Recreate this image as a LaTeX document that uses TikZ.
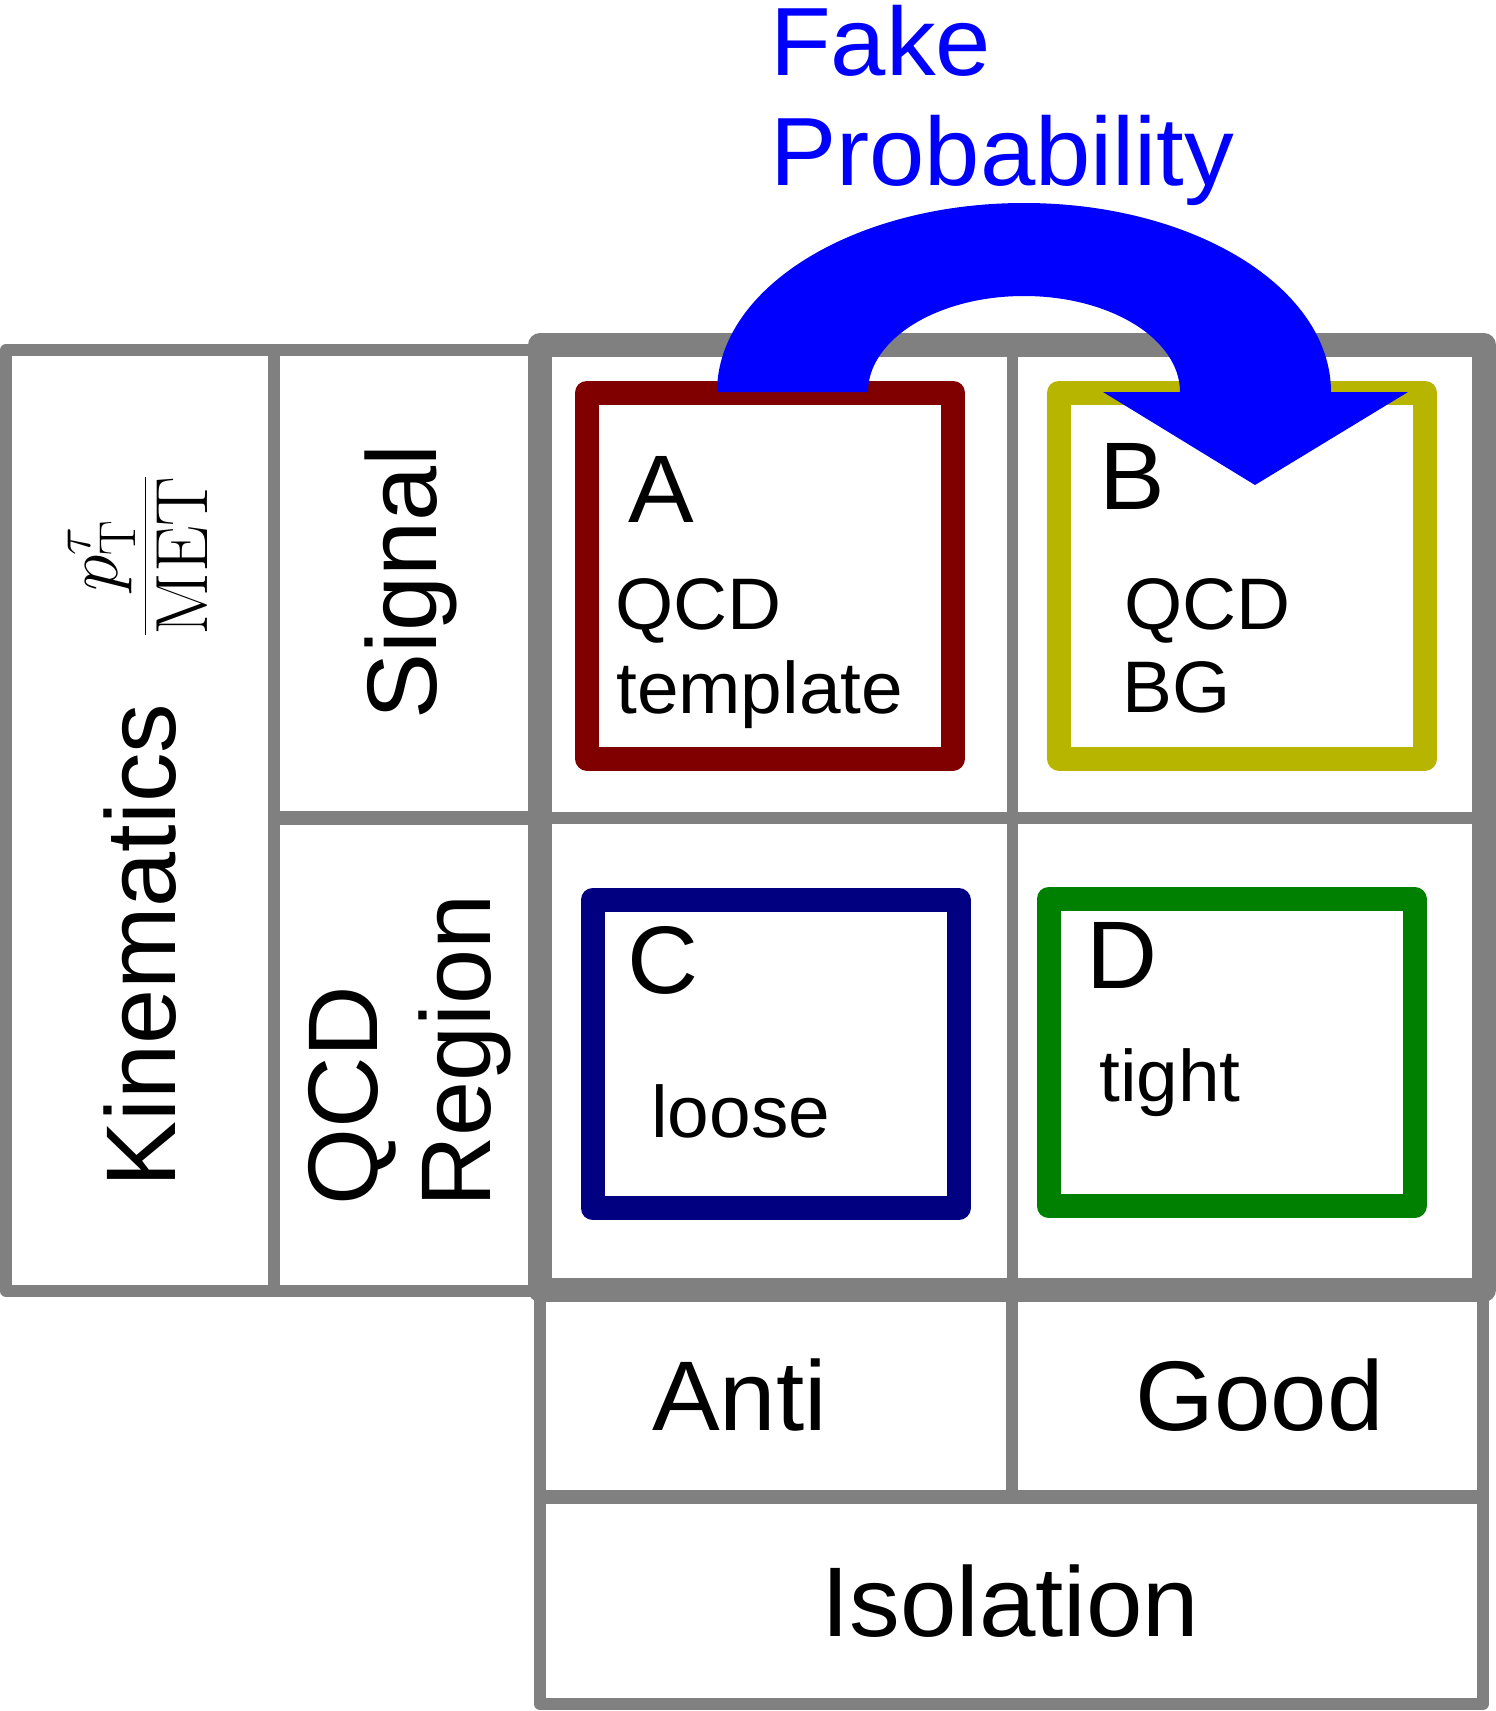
\RequirePackage{fix-cm}
\documentclass[tikz,border=0pt]{standalone}
\usepackage[no-math]{fontspec}
\setmainfont{Liberation Sans}

\definecolor{gridgray}{RGB}{128,128,128}
\definecolor{regA}{RGB}{128,0,0}
\definecolor{regB}{RGB}{184,181,0}
\definecolor{regC}{RGB}{0,0,128}
\definecolor{regD}{RGB}{0,128,0}
\definecolor{fakeblue}{RGB}{0,0,255}

\begin{document}
\begin{tikzpicture}
    [
        x=1pt, y=-1pt,
        gridline/.style={gridgray, line width=12pt, line join=round},
        frame/.style={gridgray, line width=24pt, line join=round},
        region/.style={rectangle, line width=24pt, line join=round, inner sep=0pt, outer sep=0pt, minimum width=366pt},
        letter/.style={anchor=base west, inner sep=0pt, xscale=1.025, font=\fontsize{96}{110}\selectfont},
        note/.style={anchor=base west, inner sep=0pt, xscale=1.025, font=\fontsize{73}{84}\selectfont},
        side/.style={anchor=base west, inner sep=0pt, rotate=90, font=\fontsize{99}{114}\selectfont},
        title/.style={anchor=base west, inner sep=0pt, xscale=1.025, font=\fontsize{99}{114}\selectfont},
    ]

    \useasboundingbox (0,0) rectangle (1496,1711);

    % kinematics table
    \draw [gridline] (540,350) -- (6,350) -- (6,1291) -- (540,1291);
    \draw [gridline] (274,350) -- (274,1291);
    \draw [gridline, line width=14pt] (274,818) -- (540,818);

    % isolation table
    \draw [gridline] (540,1290) -- (540,1704) -- (1483,1704) -- (1483,1290);
    \draw [gridline, line width=14pt] (540,1497) -- (1483,1497);
    \draw [gridline] (1012,1290) -- (1012,1497);

    % abcd grid
    \draw [gridline, line width=11pt] (1012,345) -- (1012,1290);
    \draw [gridline] (540,818) -- (1484,818);
    \draw [frame] (540,345) rectangle (1484,1290);

    % regions
    \node (A) at (770,575.5)      [region, draw=regA, minimum height=366pt] {};
    \node (B) at (1242,575.5)     [region, draw=regB, minimum height=366pt] {};
    \node (C) at (775.5,1054)     [region, draw=regC, minimum height=308pt] {};
    \node (D) at (1231.5,1052.5)  [region, draw=regD, minimum height=307pt] {};

    \node (lA) at (628,522)   [letter] {A};
    \node (qA) at (615,629)   [note] {QCD};
    \node (tA) at (616,713)   [note] {template};

    \node (lB) at (1099,509)  [letter] {B};
    \node (qB) at (1124,629)  [note] {QCD};
    \node (gB) at (1122,712)  [note] {BG};

    \node (lC) at (627,993)   [letter] {C};
    \node (tC) at (651,1137)  [note] {loose};

    \node (lD) at (1086,988)  [letter] {D};
    \node (tD) at (1099,1101) [note] {tight};

    % axis labels
    \node (anti) at (652,1430)  [title] {Anti};
    \node (good) at (1135,1430) [title] {Good};
    \node (iso)  at (821,1636)  [title] {Isolation};

    \node (kin) at (175,1188) [side] {Kinematics};
    \node (sig) at (436,720)  [side] {Signal};
    \node (qcd) at (377,1206) [side] {QCD};
    \node (reg) at (490,1208) [side] {Region};
    \node (ratio) at (163.5,556) [anchor=base, rotate=90, inner sep=0pt, font=\fontsize{74}{88}\selectfont]
        {$\displaystyle\frac{\raisebox{-4pt}{$p_{\mathrm{T}}^{\tau}$}}{\raisebox{7pt}{$\mathrm{MET}$}}$};

    % fake probability arrow
    \node (fake) at (770,75)  [title, text=fakeblue, font=\fontsize{97}{110}\selectfont] {Fake};
    \node (prob) at (770,185) [title, text=fakeblue, font=\fontsize{97}{110}\selectfont] {Probability};

    \fill [fakeblue] (717,392) arc [start angle=180, end angle=0, x radius=307pt, y radius=189pt]
        -- (1408,392) -- (1255,485) -- (1103,392) -- (1180,392)
        arc [start angle=0, end angle=180, x radius=156pt, y radius=96pt] -- cycle;

\end{tikzpicture}
\end{document}
